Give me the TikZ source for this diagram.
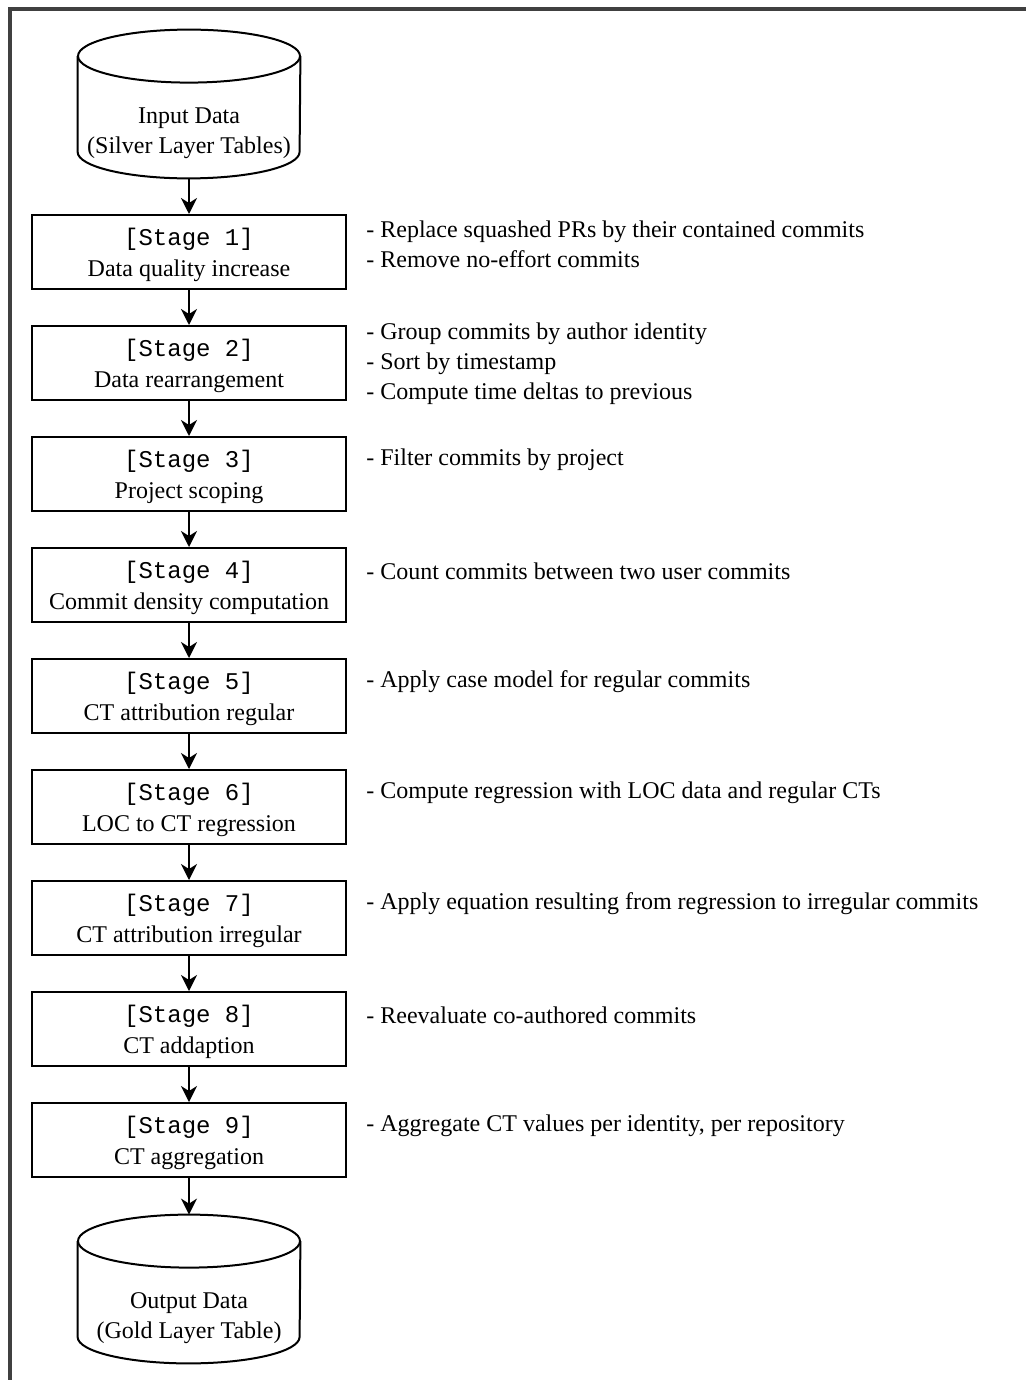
\documentclass[tikz,border=0pt]{standalone}
\usepackage{fontspec}
\setmainfont{Liberation Serif}
\setmonofont{Liberation Mono}
\usetikzlibrary{arrows.meta}
\definecolor{framegray}{HTML}{404040}

\begin{document}
\begin{tikzpicture}[x=0.5pt, y=-0.5pt,
    every node/.style={font=\fontsize{12}{15.5}\selectfont},
    stagebox/.style={draw, line width=1pt, minimum width=157pt, minimum height=37pt,
        align=center, inner sep=0pt, text depth=0pt},
    storebox/.style={minimum width=111pt, minimum height=74pt, inner sep=0pt},
    storetext/.style={align=center, yshift=-14.5pt, font=\fontsize{12}{15}\selectfont},
    notetext/.style={anchor=west, align=left, inner sep=0pt, font=\fontsize{12}{15}\selectfont},
    flow/.style={-{Stealth[length=8pt, width=8pt, inset=2.5pt]}, line width=1pt}]

\useasboundingbox (0,0) rectangle (1026,1380);

% --- FRAME ---
\draw[framegray, line width=1.75pt] (10,1400) -- (10,9) -- (1040,9);

% --- MACRO: DATA STORE (CYLINDER) ---
% #1: Node name
% #2: Y position (center)
% #3: Text
\newcommand{\drawStore}[3]{
    \node[storebox, label={[storetext]center:{#3}}] (#1) at (189,#2) {};
    % Top ellipse
    \draw[line width=1pt] ([yshift=-13.25pt]#1.north)
        ellipse [x radius=55.5pt, y radius=13.25pt];
    % Sides and bottom
    \draw[line width=1pt] ([yshift=-13.25pt]#1.north west) -- ([yshift=13.25pt]#1.south west)
        arc [start angle=180, end angle=360, x radius=55.5pt, y radius=13.25pt]
        -- ([yshift=-13.25pt]#1.north east);
}

% --- MACRO: STAGE BOX WITH NOTES ---
% #1: Stage number
% #2: Stage title
% #3: Notes (lines separated by \\)
% #4: Vertical shift of the notes
\newcommand{\drawStage}[4]{
    \pgfmathsetmacro{\stageY}{252 + (#1-1)*111}
    \node[stagebox] (stage#1) at (189,\stageY) {\texttt{[Stage #1]}\\#2};
    \node[notetext] (note#1) at (366,{\stageY+(#4)}) {#3};
}

% --- DATA STORES ---
\drawStore{input}{104}{Input Data\\(Silver Layer Tables)}
\drawStore{output}{1289}{Output Data\\(Gold Layer Table)}

% --- STAGES ---
\drawStage{1}{Data quality increase}{- Replace squashed PRs by their contained commits\\- Remove no-effort commits}{-8}
\drawStage{2}{Data rearrangement}{- Group commits by author identity\\- Sort by timestamp\\- Compute time deltas to previous}{1}
\drawStage{3}{Project scoping}{- Filter commits by project}{-14}
\drawStage{4}{Commit density computation}{- Count commits between two user commits}{-14}
\drawStage{5}{CT attribution regular}{- Apply case model for regular commits}{-14}
\drawStage{6}{LOC to CT regression}{- Compute regression with LOC data and regular CTs}{-14}
\drawStage{7}{CT attribution irregular}{- Apply equation resulting from regression to irregular commits}{-14}
\drawStage{8}{CT addaption}{- Reevaluate co-authored commits}{-14}
\drawStage{9}{CT aggregation}{- Aggregate CT values per identity, per repository}{-14}

% --- FLOW ---
\draw[flow] (input.south) -- (stage1.north);
\foreach \i [evaluate=\i as \j using int(\i+1)] in {1,...,8}
    \draw[flow] (stage\i.south) -- (stage\j.north);
\draw[flow] (stage9.south) -- (output.north);

\end{tikzpicture}
\end{document}
